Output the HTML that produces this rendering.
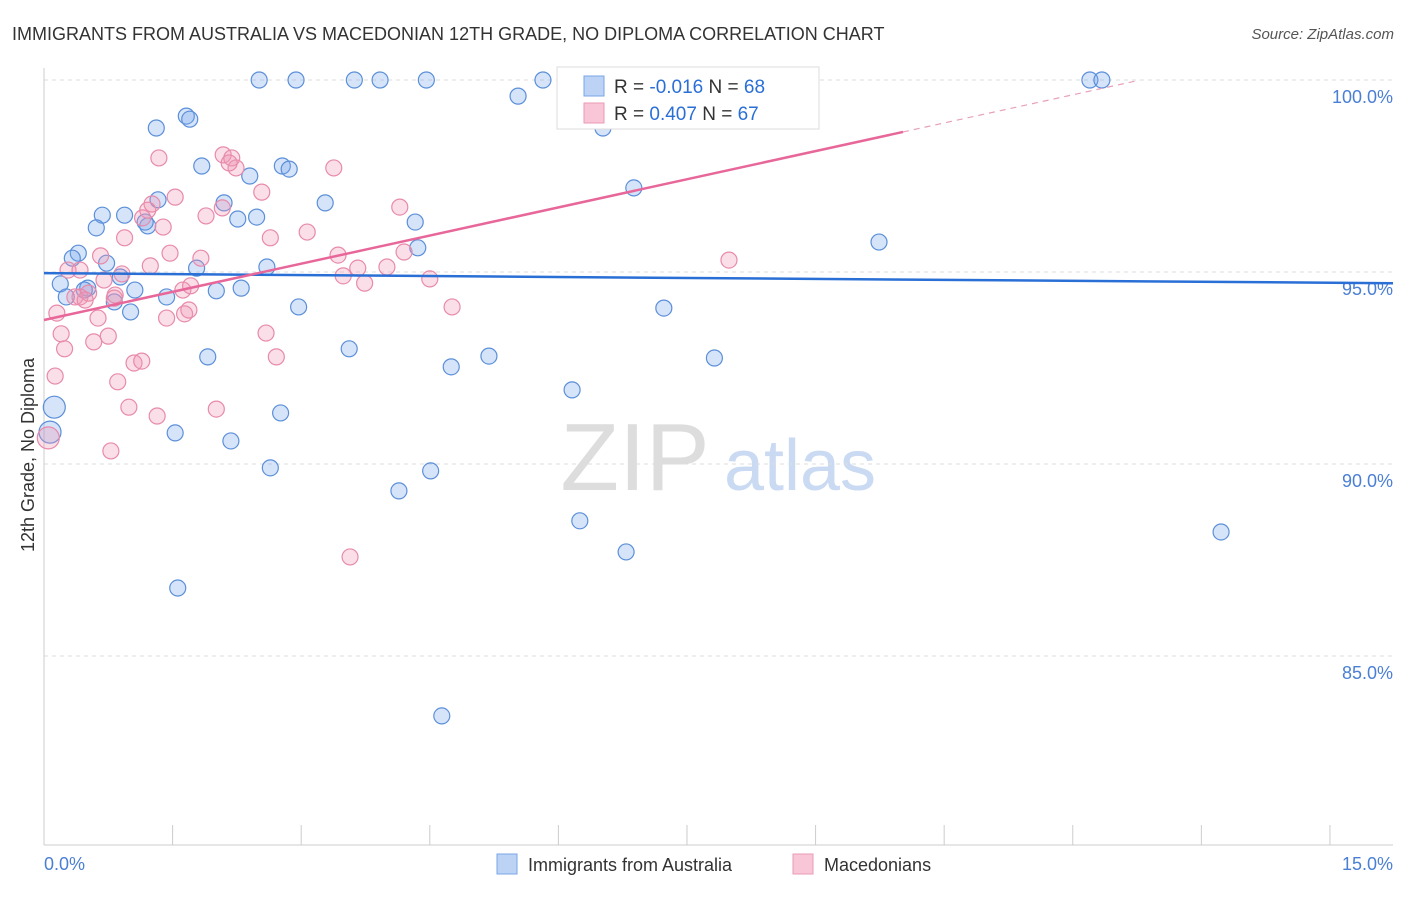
<!DOCTYPE html>
<html><head><meta charset="utf-8"><style>
body{margin:0;background:#fff;font-family:"Liberation Sans",sans-serif}
svg text{font-family:"Liberation Sans",sans-serif}
</style></head><body>
<svg id="chart" width="1406" height="892" xmlns="http://www.w3.org/2000/svg">
<text x="12" y="40" font-size="18" fill="#333">IMMIGRANTS FROM AUSTRALIA VS MACEDONIAN 12TH GRADE, NO DIPLOMA CORRELATION CHART</text>
<text x="1394" y="39" font-size="15" fill="#555" text-anchor="end" font-style="italic">Source: ZipAtlas.com</text>
<text x="635" y="490" font-size="96" fill="#ddd" font-family="Liberation Serif" text-anchor="middle">ZIP</text>
<text x="800" y="490" font-size="72" fill="#c9daf2" text-anchor="middle">atlas</text>
<g id="grid"></g><g id="axes"></g><g id="pts"></g><g id="lines"></g>
<text transform="translate(34,455) rotate(-90)" font-size="18" fill="#333" text-anchor="middle">12th Grade, No Diploma</text>
<text x="44" y="870" font-size="18" fill="#4a7fd4">0.0%</text>
<text x="1393" y="870" font-size="18" fill="#4a7fd4" text-anchor="end">15.0%</text>
<g>
<rect x="557" y="67" width="262" height="62" fill="#fff" stroke="#ddd"/>
<rect x="584" y="76" width="20" height="20" fill="#bcd3f5" stroke="#7aa6e6"/>
<text x="614" y="93" font-size="19" fill="#333">R = <tspan fill="#2a6fd6">-0.016</tspan>   N = <tspan fill="#2a6fd6">68</tspan></text>
<rect x="584" y="103" width="20" height="20" fill="#f8c6d6" stroke="#eb9ab5"/>
<text x="614" y="120" font-size="19" fill="#333">R =  <tspan fill="#2a6fd6">0.407</tspan>   N = <tspan fill="#2a6fd6">67</tspan></text>
</g>
<g>
<rect x="497" y="854" width="20" height="20" fill="#bcd3f5" stroke="#7aa6e6"/>
<text x="528" y="871" font-size="18" fill="#333">Immigrants from Australia</text>
<rect x="793" y="854" width="20" height="20" fill="#f8c6d6" stroke="#eb9ab5"/>
<text x="824" y="871" font-size="18" fill="#333">Macedonians</text>
</g>
</svg>
<script>
const yTicks=[100,95,90,85];
const yTickLabels=["100.0%","95.0%","90.0%","85.0%"];
const xTicks=[0,1.5,3,4.5,6,7.5,9,10.5,12,13.5,15];
const blueX=[2.51,2.94,3.62,3.92,4.46,5.82,5.53,6.52,12.20,12.34,1.31,1.66,1.70,1.84,2.40,2.78,2.86,2.10,3.28,2.26,2.48,4.33,4.36,6.88,9.74,0.68,0.94,0.61,1.21,1.33,1.18,0.40,0.33,0.73,1.78,2.60,0.19,0.51,0.26,0.89,1.06,0.82,1.01,1.43,2.01,2.30,2.97,7.23,3.56,1.91,5.19,7.82,4.75,6.16,0.12,0.07,2.76,1.53,2.18,2.64,4.51,4.14,6.25,13.73,6.79,1.56,4.64,0.47];
const blueY=[100,100,100,100,100,100,99.58,98.75,100,100,98.75,99.06,98.98,97.76,97.50,97.76,97.68,96.80,96.80,96.38,96.43,96.30,95.63,97.19,95.78,96.48,96.48,96.15,96.20,96.88,96.30,95.49,95.36,95.23,95.10,95.13,94.69,94.58,94.35,94.87,94.53,94.22,93.96,94.35,94.51,94.58,94.09,94.06,93.00,92.79,92.81,92.76,92.53,91.93,91.48,90.83,91.33,90.81,90.60,89.90,89.82,89.30,88.52,88.23,87.71,86.77,83.44,94.53];
const pinkX=[8.27,2.09,2.19,1.34,3.38,2.24,2.54,1.53,1.26,1.21,1.89,2.08,1.15,1.39,3.07,0.94,2.64,4.15,0.66,1.47,1.83,3.43,4.20,7.99,0.28,0.42,1.24,3.66,4.00,0.91,0.70,3.49,3.74,4.50,1.62,1.71,0.36,0.52,0.42,0.48,0.82,0.15,0.63,1.43,1.64,1.69,4.76,0.20,0.75,0.58,0.24,2.59,2.71,1.05,1.14,0.13,0.86,0.99,1.32,2.01,0.78,0.05,3.57,2.16,0.83];
const pinkY=[100,98.05,97.97,97.97,97.71,97.71,97.08,96.95,96.77,96.61,96.46,96.67,96.41,96.17,96.04,95.89,95.89,96.69,95.42,95.49,95.36,95.44,95.52,95.31,95.05,95.05,95.16,95.10,95.13,94.95,94.79,94.90,94.71,94.82,94.53,94.64,94.35,94.45,94.35,94.27,94.32,93.93,93.80,93.80,93.91,94.01,94.09,93.39,93.33,93.18,93.00,93.41,92.79,92.63,92.68,92.29,92.14,91.48,91.25,91.43,90.34,90.68,87.58,97.84,94.40];
const blueTrend=[94.97,94.72];
const pinkTrend=[93.75,0.4887];
const X=v=>44+v*85.73, Y=v=>80+(100-v)*38.4;
const NS="http://www.w3.org/2000/svg";
function mk(p,t,a){const e=document.createElementNS(NS,t);for(const k in a)e.setAttribute(k,a[k]);document.getElementById(p).appendChild(e);return e;}
yTicks.forEach((t,i)=>{
 const l=mk('grid','line',{x1:44,x2:1393,y1:Y(t),y2:Y(t),stroke:'#ddd','stroke-dasharray':'4,4'});
 
 
 const tx=mk('grid','text',{x:1393,y:Y(t)+23,'font-size':18,fill:'#4a7fd4','text-anchor':'end'});
 tx.textContent=yTickLabels[i];
 
 
});
const ax=mk('axes','line',{x1:44,x2:44,y1:68,y2:845,stroke:'#ccc'});


const bx=mk('axes','line',{x1:44,x2:1393,y1:845,y2:845,stroke:'#ccc'});


xTicks.forEach(t=>{
 const l=mk('axes','line',{x1:X(t),x2:X(t),y1:825,y2:845,stroke:'#ccc'});
 
 
});
function pts(xs,ys,fill,stroke,name){xs.forEach((x,i)=>{
 const big=(x<0.15&&ys[i]<91.6&&ys[i]>90.5);
 const c=mk('pts','circle',{cx:X(x),cy:Y(ys[i]),r:big?11:8,fill:fill,stroke:stroke,'stroke-width':1.2});
 
 
});}
pts(blueX,blueY,'rgba(120,165,235,0.3)','#5b8fd9','australia-point');
pts(pinkX,pinkY,'rgba(240,150,180,0.3)','#e88aab','macedonian-point');
const bl=mk('lines','line',{x1:X(0),y1:Y(blueTrend[0]),x2:1393,y2:Y(blueTrend[0]+(blueTrend[1]-blueTrend[0])*(1393-44)/(1330-44)),stroke:'#2a6fd6','stroke-width':2.5});


const pe=10.02, pd=12.78;
const pl=mk('lines','line',{x1:X(0),y1:Y(pinkTrend[0]),x2:X(pe),y2:Y(pinkTrend[0]+pinkTrend[1]*pe),stroke:'#e8679a','stroke-width':2.5});


const pdl=mk('lines','line',{x1:X(pe),y1:Y(pinkTrend[0]+pinkTrend[1]*pe),x2:X(pd),y2:Y(pinkTrend[0]+pinkTrend[1]*pd),stroke:'#e8a0bb','stroke-width':1.2,'stroke-dasharray':'6,5'});


</script>
</body></html>
